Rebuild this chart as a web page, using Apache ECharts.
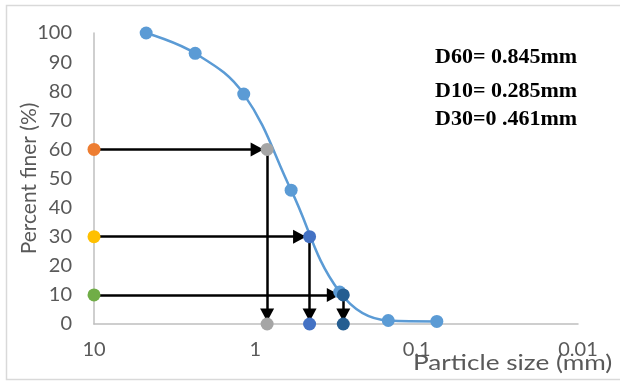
<!DOCTYPE html>
<html>
<head>
<meta charset="utf-8">
<script src="https://cdn.jsdelivr.net/npm/echarts@6/dist/echarts.min.js"></script>
<style>
  html, body { margin: 0; padding: 0; background: #fff; }
  #chart { width: 620px; height: 382px; }
</style>
</head>
<body>
<div id="chart"></div>
<script>
// sieve analysis (particle size in mm, percent finer)
const sieveSizes = [4.75, 2.36, 1.18, 0.6, 0.3, 0.15, 0.075];
const percentFiner = [100, 93, 79, 46, 11, 1.2, 0.9];

// D values
const dLabels = ['D60', 'D30', 'D10'];
const dPercents = [60, 30, 10];
const dSizes = [0.845, 0.461, 0.285];
const dText = ['D60= 0.845mm', 'D10= 0.285mm', 'D30=0 .461mm'];

const xTicks = [10, 1, 0.1, 0.01];
const yTicks = [0, 10, 20, 30, 40, 50, 60, 70, 80, 90, 100];

const startColors = ['#ED7D31', '#FFC000', '#70AD47'];
const endColors = ['#A5A5A5', '#4472C4', '#255E91'];

const chart = echarts.init(document.getElementById('chart'));

const series = [];

// arrow shafts
dSizes.forEach((size, i) => {
  series.push({
    name: dLabels[i] + ' arrows',
    type: 'lines',
    coordinateSystem: 'cartesian2d',
    z: 2,
    symbol: 'none',
    lineStyle: { color: '#000', width: 2.5, opacity: 1 },
    data: [
      { coords: [[xTicks[0], dPercents[i]], [size, dPercents[i]]] },
      { coords: [[size, dPercents[i]], [size, 0]] }
    ]
  });
});

// arrow heads: one pointing right into the curve, one pointing down onto the axis
series.push({
  name: 'heads right',
  type: 'scatter',
  z: 2,
  symbol: 'triangle',
  symbolSize: [14, 13],
  symbolRotate: -90,
  symbolOffset: [-10, 0],
  itemStyle: { color: '#000', opacity: 1 },
  data: dSizes.map((s, i) => [s, dPercents[i]])
});
series.push({
  name: 'heads down',
  type: 'scatter',
  z: 2,
  symbol: 'triangle',
  symbolSize: [14, 13],
  symbolRotate: 180,
  symbolOffset: [0, -9],
  itemStyle: { color: '#000', opacity: 1 },
  data: dSizes.map(s => [s, 0])
});

series.push({
  name: 'Percent finer',
  type: 'line',
  z: 3,
  smooth: 0.4,
  symbol: 'circle',
  symbolSize: 13,
  itemStyle: { color: '#5B9BD5' },
  lineStyle: { color: '#5B9BD5', width: 2.5 },
  data: sieveSizes.map((s, i) => [s, percentFiner[i]])
});

dSizes.forEach((size, i) => {
  series.push({
    name: dLabels[i] + ' start',
    type: 'scatter',
    z: 4,
    symbolSize: 13,
    itemStyle: { color: startColors[i], opacity: 1 },
    data: [[xTicks[0], dPercents[i]]]
  });
  series.push({
    name: dLabels[i] + ' end',
    type: 'scatter',
    z: 4,
    symbolSize: 13,
    itemStyle: { color: endColors[i], opacity: 1 },
    data: [[size, dPercents[i]], [size, 0]]
  });
});

const option = {
  backgroundColor: '#fff',
  animation: false,
  grid: { left: 94, right: 42, top: 33, bottom: 58, outerBoundsMode: 'none' },
  xAxis: {
    type: 'log',
    logBase: 10,
    min: xTicks[xTicks.length - 1],
    max: xTicks[0],
    inverse: true,
    axisLine: { show: true, lineStyle: { color: '#BFBFBF', width: 1.5 } },
    axisTick: { show: false },
    splitLine: { show: false },
    axisLabel: {
      color: '#595959',
      fontFamily: 'Lato',
      fontSize: 20,
      margin: 16,
      formatter: v => String(+(+v).toPrecision(3))
    }
  },
  yAxis: {
    type: 'value',
    min: yTicks[0],
    max: yTicks[yTicks.length - 1],
    interval: 10,
    name: 'Percent finer (%)',
    nameLocation: 'middle',
    nameGap: 54,
    nameMoveOverlap: false,
    nameTextStyle: { color: '#595959', fontFamily: 'Lato', fontSize: 21 },
    axisLine: { show: true, lineStyle: { color: '#BFBFBF', width: 1.5 } },
    axisTick: { show: false },
    splitLine: { show: false },
    axisLabel: { color: '#595959', fontFamily: 'Lato', fontSize: 20, margin: 22 }
  },
  graphic: [
    {
      type: 'rect',
      silent: true,
      shape: { x: 6.5, y: 5.5, width: 640, height: 374 },
      style: { fill: null, stroke: '#D9D9D9', lineWidth: 1.5 }
    },
    {
      type: 'text',
      x: 413,
      y: 363,
      scaleX: 1.19,
      style: {
        text: 'Particle size (mm)', fill: '#595959', font: '22px Lato',
        verticalAlign: 'middle'
      }
    }
  ].concat(dText.map((t, i) => ({
    type: 'text',
    x: 435,
    y: [58, 92, 120][i],
    scaleX: 1.1,
    style: {
      text: t, fill: '#000', font: 'bold 20px "Liberation Serif"',
      verticalAlign: 'middle'
    }
  }))),
  series: series
};

chart.setOption(option);
</script>
</body>
</html>
